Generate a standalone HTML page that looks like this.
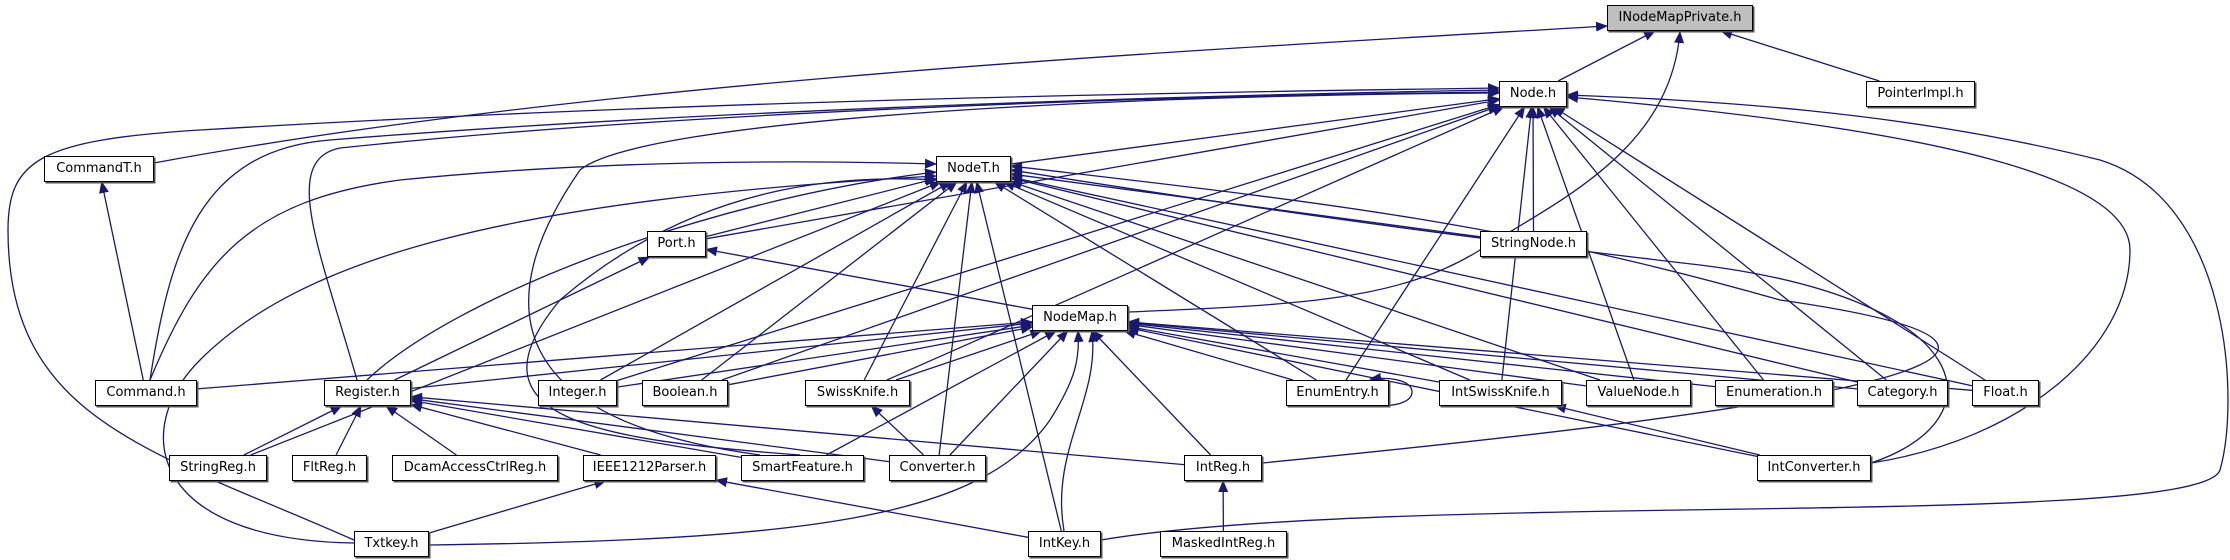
<!DOCTYPE html>
<html><head><meta charset="utf-8"><style>
html,body{margin:0;padding:0;background:#fff;}
body{width:2230px;height:560px;overflow:hidden;position:relative;}
svg{position:absolute;left:0;top:0;}
.n{position:absolute;box-sizing:border-box;border:1px solid #000;background:#fff;box-shadow:1.5px 1.5px 0 #555;font:13px "DejaVu Sans","Liberation Sans",sans-serif;text-align:center;line-height:24px;height:26px;color:#000;white-space:nowrap;}
</style></head><body>
<svg id="s" width="2230" height="560" viewBox="0 0 2230 560">
<defs><marker id="a" markerWidth="12" markerHeight="10" refX="11" refY="5" orient="auto" markerUnits="userSpaceOnUse"><path d="M0,0 L12,5 L0,10 z" fill="#191970"/></marker></defs>
<g id="g" fill="none" stroke="#191970" stroke-width="1.3"></g>
</svg>
<div id="nodes"></div>
<script>
var N={
INMP:[1607,1753,5,"INodeMapPrivate.h",1],
Node:[1499,1567,81,"Node.h"],
Pointer:[1866,1975,81,"PointerImpl.h"],
CommandT:[44,154,156,"CommandT.h"],
NodeT:[936,1011,156,"NodeT.h"],
Port:[647,706,231,"Port.h"],
StringNode:[1480,1587,231,"StringNode.h"],
NodeMap:[1032,1128,305,"NodeMap.h"],
Command:[95,197,380,"Command.h"],
Register:[324,411,380,"Register.h"],
Integer:[538,617,380,"Integer.h"],
Boolean:[642,728,380,"Boolean.h"],
SwissKnife:[805,910,380,"SwissKnife.h"],
EnumEntry:[1286,1389,380,"EnumEntry.h"],
IntSwissKnife:[1439,1562,380,"IntSwissKnife.h"],
ValueNode:[1586,1691,380,"ValueNode.h"],
Enumeration:[1715,1833,380,"Enumeration.h"],
Category:[1857,1948,380,"Category.h"],
Float:[1972,2039,380,"Float.h"],
StringReg:[169,267,455,"StringReg.h"],
FltReg:[292,367,455,"FltReg.h"],
Dcam:[392,558,455,"DcamAccessCtrlReg.h"],
IEEE:[583,716,455,"IEEE1212Parser.h"],
Smart:[741,864,455,"SmartFeature.h"],
Converter:[889,986,455,"Converter.h"],
IntReg:[1184,1262,455,"IntReg.h"],
IntConverter:[1757,1871,455,"IntConverter.h"],
Txtkey:[354,429,531,"Txtkey.h"],
IntKey:[1028,1101,531,"IntKey.h"],
Masked:[1160,1287,531,"MaskedIntReg.h"]
};
var H=26,html="";
for(var k in N){var b=N[k];html+='<div class="n" style="left:'+b[0]+'px;top:'+b[2]+'px;width:'+(b[1]-b[0])+'px;'+(b[4]?'background:#bfbfbf;':'')+'">'+b[3]+'</div>';}
document.getElementById('nodes').innerHTML=html;
function c(b){return[(b[0]+b[1])/2,b[2]+H/2];}
function bnd(b,tx,ty){var p=c(b),dx=tx-p[0],dy=ty-p[1],hw=(b[1]-b[0])/2,hh=H/2;var t=Math.min(dx?hw/Math.abs(dx):1e9,dy?hh/Math.abs(dy):1e9);return[p[0]+dx*t,p[1]+dy*t];}
var g=document.getElementById('g'),out="";
function P(d){out+='<path d="'+d+'" marker-end="url(#a)"/>';}
function e(ch,pa){var A=N[ch],B=N[pa],ca=c(A),cb=c(B);var s=bnd(A,cb[0],cb[1]),t=bnd(B,ca[0],ca[1]);
P('M'+s[0].toFixed(1)+','+s[1].toFixed(1)+' L'+t[0].toFixed(1)+','+t[1].toFixed(1));}
e('Node','INMP');e('Pointer','INMP');
P('M1128,312 C1300,305 1400,300 1480,250 C1560,200 1670,150 1680,32');
P('M154,163 C600,80 1200,50 1607,26');
["NodeT","Integer","Boolean","SwissKnife","Port","StringNode","EnumEntry","IntSwissKnife","ValueNode","Enumeration","Category","Float"].forEach(function(x){e(x,'Node');});
P('M150,380 C170,250 200,150 330,140 C700,110 1200,95 1499,90');
P('M357,380 C320,250 280,160 340,148 C700,110 1200,95 1499,92');
P('M760,455 C500,420 490,300 580,170 C640,120 1100,95 1499,93');
P('M354,540 C150,450 8,420 8,230 C8,160 40,140 200,130 C700,100 1200,92 1499,88');
P('M1101,540 C1400,490 2200,530 2220,470 C2240,400 2230,200 2100,160 C1900,110 1700,100 1567,95');
P('M1871,463 C2020,440 2130,350 2130,250 C2130,180 1950,130 1567,97');
["Port","Integer","Boolean","SwissKnife","Converter","IntKey","StringReg","EnumEntry","IntSwissKnife","ValueNode","Category","Float","StringNode"].forEach(function(x){e(x,'NodeT');});
P('M367,380 C450,300 700,200 936,172');
P('M150,380 C200,260 250,200 400,180 C600,160 800,160 936,164');
P('M354,543 C150,540 130,430 200,360 C300,260 500,200 936,176');
P('M800,455 C600,440 460,420 560,300 C700,180 850,175 936,180');
P('M1262,463 C1700,420 2200,360 1780,300 C1500,220 1300,200 1011,166');
P('M1871,463 C2000,420 1980,300 1700,265 C1400,230 1200,200 1011,170');
e('Register','Port');e('NodeMap','Port');e('Command','CommandT');
["Command","Register","Integer","Boolean","SwissKnife","Smart","Converter","IntReg","EnumEntry","IntSwissKnife","ValueNode","Enumeration","Category","Float","IntConverter"].forEach(function(x){e(x,'NodeMap');});
P('M429,545 C800,540 980,520 1050,420 C1075,380 1080,360 1078,331');
P('M1064,531 C1050,450 1100,400 1092,331');
["StringReg","FltReg","Dcam","IEEE","Smart","Converter","IntReg"].forEach(function(x){e(x,'Register');});
e('Converter','SwissKnife');e('Txtkey','IEEE');e('IntKey','IEEE');e('IntConverter','IntSwissKnife');e('Masked','IntReg');
P('M1370,405 C1400,408 1412,400 1412,392 C1412,384 1400,376 1370,379');
g.innerHTML=out;
</script>
</body></html>
